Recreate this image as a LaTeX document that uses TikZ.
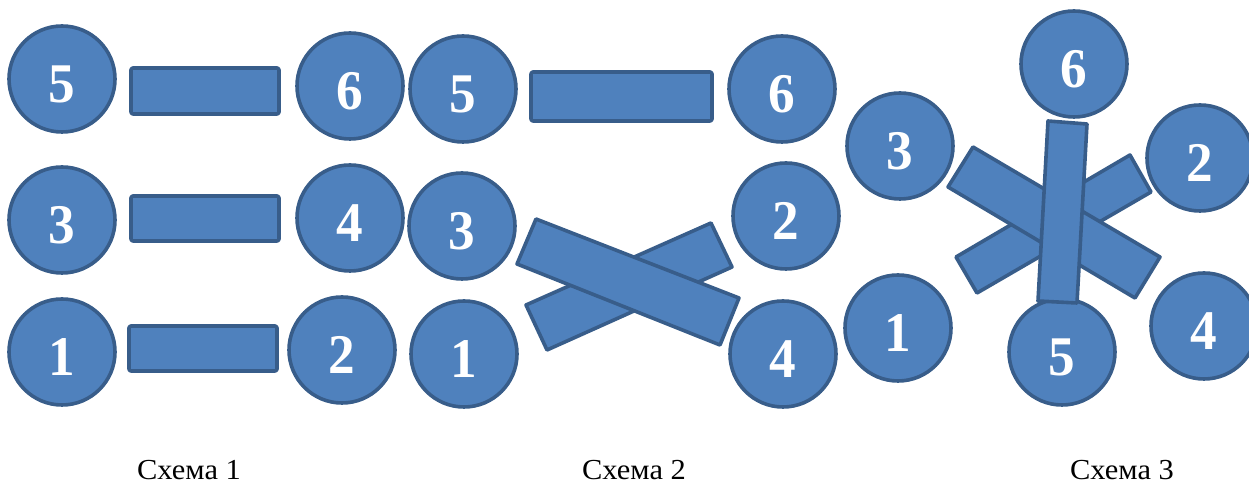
\documentclass[tikz,border=0pt]{standalone}
\usepackage{fontspec}
\setmainfont{Liberation Serif}
\definecolor{fillblue}{HTML}{4F81BD}
\definecolor{edgeblue}{HTML}{385D8A}
\begin{document}
\begin{tikzpicture}[x=0.5pt,y=-0.5pt,
  ball/.style={circle,draw=edgeblue,fill=fillblue,line width=1.8pt,minimum size=53pt,inner sep=0pt},
  digit/.style={text=white,font=\fontsize{28}{30}\selectfont\bfseries,xscale=0.95,inner sep=0pt},
  bar/.style={draw=edgeblue,fill=fillblue,line width=1.8pt,line join=round},
  captext/.style={font=\fontsize{14.5}{16}\selectfont,xscale=1.05,anchor=base,inner sep=0pt}]
\useasboundingbox (0,0) rectangle (1249,485);
% ---------- Scheme 1 ----------
\foreach \n/\x/\y in {5/62/79,6/350/86,3/62/220,4/350/218,1/62/352,2/342/350}{
  \node[ball] (a\n) at (\x,\y) {};
  \path (a\n.center) ++(0,5) node[digit] {\n};
}
\draw[bar,rounded corners=1pt] (131,68) rectangle (279,114);
\draw[bar,rounded corners=1pt] (131,196) rectangle (279,241);
\draw[bar,rounded corners=1pt] (129,326) rectangle (277,371);
% ---------- Scheme 2 ----------
\foreach \n/\x/\y in {5/463/89,6/782/89,3/462/226,2/786/216,1/464/354,4/783/354}{
  \node[ball] (b\n) at (\x,\y) {};
  \path (b\n.center) ++(0,5) node[digit] {\n};
}
\draw[bar,rounded corners=1pt] (531,72) rectangle (712,121);
\draw[bar] (526,305) -- (711,223) -- (732,267) -- (547,350) -- cycle;
\draw[bar] (536,219) -- (739,298) -- (720,345) -- (517,264) -- cycle;
% ---------- Scheme 3 ----------
\foreach \n/\x/\y in {6/1074/64,3/900/146,1/898/328,5/1062/352,4/1204/326}{
  \node[ball] (c\n) at (\x,\y) {};
  \path (c\n.center) ++(0,5) node[digit] {\n};
}
\draw[bar] (956,257) -- (1130,155) -- (1151,192) -- (977,293) -- cycle;
\draw[bar] (973,147) -- (1160,257) -- (1135,298) -- (948,187) -- cycle;
\draw[bar] (1048,121) -- (1087,124) -- (1077,303) -- (1038,301) -- cycle;
\node[ball] (c2) at (1200,158) {};
\path (c2.center) ++(0,5) node[digit] {2};
% ---------- Captions ----------
\node[captext] (t1) at (189,480) {Схема 1};
\node[captext] (t2) at (634,480) {Схема 2};
\node[captext] (t3) at (1122,480) {Схема 3};
\end{tikzpicture}
\end{document}
